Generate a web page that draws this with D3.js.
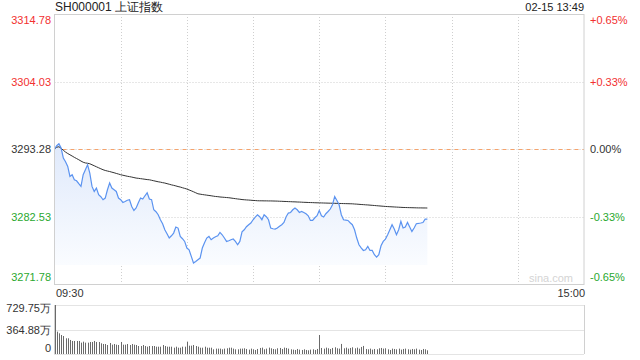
<!DOCTYPE html>
<html lang="zh">
<head>
<meta charset="utf-8">
<title>SH000001 上证指数</title>
<script src="https://d3js.org/d3.v7.min.js" charset="utf-8"></script>
<style>
    body {
        margin: 0;
        background: #fff;
        font-family: "Liberation Sans", Arial, sans-serif;
    }
    .lbl { font-size: 11px; }
    .up { fill: #f23030; }
    .down { fill: #2aa830; }
    .flat { fill: #333; }
</style>
</head>
<body>
<div id="chart"></div>
<script>

//_____________________________DATA_____________________________

var symbol = "SH000001 上证指数";
var stamp = "02-15 13:49";
var preClose = 3293.28;
var priceTicks = [3314.78, 3304.03, 3293.28, 3282.53, 3271.78];
var pctTicks = ["+0.65%", "+0.33%", "0.00%", "-0.33%", "-0.65%"];
var timeTicks = ["09:30", "15:00"];
var volTicks = ["729.75万", "364.88万", "0"];
var volMax = 729.75;

// price per minute, 09:30 .. 13:49
var price = [
 3293.27, 3293.80, 3294.12, 3293.43, 3291.84, 3291.25, 3290.50, 3288.91, 3289.18, 3288.38,
 3288.22, 3287.75, 3287.32, 3289.18, 3289.98, 3290.77, 3289.45, 3287.32, 3286.52, 3287.06,
 3285.99, 3285.68, 3285.20, 3285.47, 3286.79, 3287.86, 3287.06, 3286.79, 3286.52, 3285.47,
 3285.20, 3284.77, 3284.93, 3285.12, 3285.20, 3284.13, 3283.49, 3283.88, 3284.72, 3285.47,
 3285.31, 3285.83, 3286.31, 3285.31, 3285.20, 3283.60, 3283.29, 3282.81, 3282.01, 3281.38,
 3280.42, 3279.78, 3279.10, 3279.46, 3279.89, 3280.85, 3280.69, 3279.35, 3278.99, 3278.56,
 3277.51, 3277.23, 3276.17, 3275.12, 3275.37, 3275.64, 3275.91, 3277.51, 3278.35, 3279.10,
 3279.35, 3278.83, 3279.10, 3279.30, 3279.46, 3279.99, 3279.62, 3279.10, 3278.56, 3278.67,
 3278.83, 3278.94, 3278.56, 3278.03, 3278.56, 3280.10, 3280.42, 3280.90, 3281.22, 3281.49,
 3282.01, 3282.44, 3282.81, 3282.49, 3282.01, 3282.81, 3282.49, 3282.01, 3280.69, 3280.58,
 3280.53, 3280.69, 3280.98, 3281.22, 3281.58, 3282.49, 3283.08, 3283.17, 3283.60, 3283.88,
 3283.60, 3283.17, 3283.33, 3283.17, 3282.97, 3282.65, 3281.90, 3281.90, 3282.33, 3282.65,
 3283.49, 3282.65, 3282.44, 3282.97, 3283.33, 3283.72, 3284.40, 3285.72, 3285.09, 3284.40,
 3282.81, 3282.01, 3281.96, 3281.90, 3281.53, 3281.22, 3280.42, 3279.10, 3278.03, 3277.55,
 3277.12, 3277.23, 3277.76, 3277.12, 3277.12, 3276.44, 3276.07, 3276.44, 3277.87, 3278.56,
 3278.94, 3279.62, 3280.42, 3281.22, 3280.53, 3279.62, 3280.42, 3281.74, 3280.69, 3280.85,
 3281.58, 3280.85, 3280.15, 3280.69, 3281.38, 3281.42, 3281.49, 3281.58, 3282.12, 3282.12
];

// average price per minute
var avgPrice = [
 3293.28, 3293.56, 3293.64, 3293.40, 3293.08, 3292.79, 3292.56, 3292.36, 3292.16, 3291.95,
 3291.76, 3291.57, 3291.36, 3291.17, 3291.06, 3291.01, 3290.93, 3290.77, 3290.61, 3290.45,
 3290.29, 3290.13, 3289.98, 3289.86, 3289.77, 3289.69, 3289.59, 3289.50, 3289.39, 3289.29,
 3289.18, 3289.10, 3289.02, 3288.94, 3288.88, 3288.81, 3288.73, 3288.65, 3288.61, 3288.56,
 3288.51, 3288.46, 3288.41, 3288.38, 3288.30, 3288.22, 3288.14, 3288.06, 3288.00, 3287.92,
 3287.86, 3287.76, 3287.67, 3287.57, 3287.49, 3287.40, 3287.30, 3287.22, 3287.11, 3287.01,
 3286.90, 3286.76, 3286.62, 3286.47, 3286.31, 3286.15, 3286.09, 3286.03, 3285.98, 3285.93,
 3285.88, 3285.83, 3285.77, 3285.72, 3285.69, 3285.64, 3285.61, 3285.58, 3285.55, 3285.52,
 3285.47, 3285.42, 3285.37, 3285.32, 3285.28, 3285.23, 3285.20, 3285.17, 3285.15, 3285.12,
 3285.09, 3285.07, 3285.04, 3285.03, 3285.03, 3285.02, 3285.02, 3285.01, 3285.01, 3285.00,
 3284.99, 3284.98, 3284.96, 3284.95, 3284.93, 3284.92, 3284.90, 3284.89, 3284.87, 3284.86,
 3284.84, 3284.83, 3284.81, 3284.79, 3284.78, 3284.76, 3284.75, 3284.74, 3284.72, 3284.71,
 3284.70, 3284.69, 3284.68, 3284.67, 3284.66, 3284.65, 3284.64, 3284.63, 3284.62, 3284.61,
 3284.60, 3284.59, 3284.58, 3284.57, 3284.56, 3284.55, 3284.52, 3284.50, 3284.47, 3284.44,
 3284.42, 3284.39, 3284.37, 3284.34, 3284.31, 3284.28, 3284.25, 3284.22, 3284.19, 3284.16,
 3284.13, 3284.11, 3284.09, 3284.07, 3284.05, 3284.03, 3284.01, 3283.99, 3283.97, 3283.96,
 3283.95, 3283.94, 3283.93, 3283.92, 3283.91, 3283.90, 3283.90, 3283.89, 3283.89, 3283.88
];

// volume per minute, 万
var volume = [
 729.75, 333, 308, 283, 268, 234, 234, 209, 194, 194,
 194, 194, 169, 184, 169, 169, 179, 179, 194, 179,
 179, 159, 149, 149, 134, 164, 139, 149, 139, 134,
 179, 139, 139, 149, 134, 149, 139, 134, 119, 119,
 134, 119, 109, 119, 119, 119, 109, 109, 109, 134,
 119, 109, 109, 109, 94, 109, 94, 94, 109, 109,
 184, 124, 124, 134, 119, 109, 94, 94, 109, 94,
 94, 94, 70, 80, 80, 80, 70, 80, 85, 94,
 94, 80, 70, 70, 80, 80, 85, 75, 65, 80,
 70, 60, 75, 90, 95, 70, 80, 95, 85, 75,
 70, 85, 90, 75, 95, 90, 80, 70, 65, 60,
 75, 65, 60, 70, 60, 55, 65, 70, 60, 75,
 283, 90, 80, 95, 85, 75, 90, 100, 85, 80,
 150, 85, 95, 80, 90, 100, 85, 95, 80, 105,
 120, 75, 70, 80, 65, 75, 70, 85, 90, 80,
 85, 70, 60, 80, 75, 70, 80, 65, 75, 80,
 70, 65, 75, 70, 80, 65, 60, 75, 70, 55
];

//_____________________________SVG_____________________________

var width = 640;
var height = 360;
var plotL = 54.5, plotR = 584;
var plotT = 14, plotB = 284;
var vTop = 305, vBottom = 354;

var svg = d3.select( "#chart" )
    .append( "svg" )
    .attr( "width", width )
    .attr( "height", height );

var x = d3.scaleLinear()
    .domain( [0, 240] )
    .range( [plotL, plotR] );

var y = d3.scaleLinear()
    .domain( [priceTicks[4], priceTicks[0]] )
    .range( [plotB, plotT] );

var yv = d3.scaleLinear()
    .domain( [0, volMax] )
    .range( [vBottom, vTop] );

// gradient under the price line
var grad = svg.append( "defs" ).append( "linearGradient" )
    .attr( "id", "fillgrad" )
    .attr( "x1", 0 ).attr( "y1", 0 ).attr( "x2", 0 ).attr( "y2", 1 );
grad.append( "stop" ).attr( "offset", "0%" ).attr( "stop-color", "#dfe9fb" );
grad.append( "stop" ).attr( "offset", "100%" ).attr( "stop-color", "#fafcff" );

//grid________________________________

var g = svg.append( "g" );

// vertical dotted grid, every 30 minutes
g.selectAll( ".vgrid" )
    .data( d3.range( 30, 240, 30 ) )
    .enter()
    .append( "line" )
    .attr( "x1", function(d) { return Math.round( x(d) ) + 0.5; } )
    .attr( "x2", function(d) { return Math.round( x(d) ) + 0.5; } )
    .attr( "y1", plotT )
    .attr( "y2", plotB )
    .attr( "stroke", "#cfcfcf" )
    .attr( "stroke-dasharray", "1,2" );

// horizontal dotted grid
g.selectAll( ".hgrid" )
    .data( priceTicks.slice( 1, 4 ) )
    .enter()
    .append( "line" )
    .attr( "x1", plotL )
    .attr( "x2", plotR )
    .attr( "y1", function(d) { return Math.round( y(d) ) + 0.5; } )
    .attr( "y2", function(d) { return Math.round( y(d) ) + 0.5; } )
    .attr( "stroke", "#cfcfcf" )
    .attr( "stroke-dasharray", "1,2" );

// previous close, orange dashes
g.append( "line" )
    .attr( "x1", plotL )
    .attr( "x2", plotR )
    .attr( "y1", Math.round( y(preClose) ) + 0.5 )
    .attr( "y2", Math.round( y(preClose) ) + 0.5 )
    .attr( "stroke", "#f5a36c" )
    .attr( "stroke-dasharray", "4,4" );

//price area and lines________________________________

var area = d3.area()
    .x( function(d, i) { return x(i); } )
    .y0( y( d3.min( price ) ) + 2 )
    .y1( function(d) { return y(d); } );

svg.append( "path" )
    .datum( price )
    .attr( "fill", "url(#fillgrad)" )
    .attr( "d", area );

var line = d3.line()
    .x( function(d, i) { return x(i); } )
    .y( function(d) { return y(d); } );

svg.append( "path" )
    .datum( avgPrice )
    .attr( "fill", "none" )
    .attr( "stroke", "#333" )
    .attr( "stroke-width", 1 )
    .attr( "d", line );

svg.append( "path" )
    .datum( price )
    .attr( "fill", "none" )
    .attr( "stroke", "#5b93f0" )
    .attr( "stroke-width", 1.2 )
    .attr( "d", line );

// frame
svg.append( "rect" )
    .attr( "x", plotL )
    .attr( "y", plotT + 0.5 )
    .attr( "width", plotR - plotL )
    .attr( "height", plotB - plotT )
    .attr( "fill", "none" )
    .attr( "stroke", "#d0d0d0" );

//labels________________________________

svg.append( "text" )
    .attr( "x", 55 )
    .attr( "y", 11 )
    .attr( "font-size", "12px" )
    .attr( "fill", "#222" )
    .text( symbol );

svg.append( "text" )
    .attr( "x", plotR )
    .attr( "y", 11 )
    .attr( "text-anchor", "end" )
    .attr( "font-size", "11px" )
    .attr( "fill", "#222" )
    .text( stamp );

function tickClass(i) {
    return i < 2 ? "lbl up" : ( i == 2 ? "lbl flat" : "lbl down" );
}
function tickY(d, i) {
    var p = y(d);
    if (i == 0) p = p + 6;
    if (i == 4) p = p - 7;
    return p + 4;
}

svg.selectAll( ".ltick" )
    .data( priceTicks )
    .enter()
    .append( "text" )
    .attr( "class", function(d, i) { return tickClass(i); } )
    .attr( "x", 51 )
    .attr( "y", tickY )
    .attr( "text-anchor", "end" )
    .text( function(d) { return d.toFixed(2); } );

svg.selectAll( ".rtick" )
    .data( priceTicks )
    .enter()
    .append( "text" )
    .attr( "class", function(d, i) { return tickClass(i); } )
    .attr( "x", 590 )
    .attr( "y", tickY )
    .text( function(d, i) { return pctTicks[i]; } );

svg.append( "text" )
    .attr( "x", 573 )
    .attr( "y", 282 )
    .attr( "text-anchor", "end" )
    .attr( "font-size", "11px" )
    .attr( "fill", "#d4d4d4" )
    .text( "sina.com" );

svg.append( "text" )
    .attr( "class", "lbl flat" )
    .attr( "x", 56 )
    .attr( "y", 297 )
    .text( timeTicks[0] );

svg.append( "text" )
    .attr( "class", "lbl flat" )
    .attr( "x", 585 )
    .attr( "y", 297 )
    .attr( "text-anchor", "end" )
    .text( timeTicks[1] );

//volume________________________________

var vg = svg.append( "g" );

vg.selectAll( ".vline" )
    .data( [volMax, volMax / 2, 0] )
    .enter()
    .append( "line" )
    .attr( "x1", plotL )
    .attr( "x2", plotR )
    .attr( "y1", function(d) { return Math.round( yv(d) ) + 0.5; } )
    .attr( "y2", function(d) { return Math.round( yv(d) ) + 0.5; } )
    .attr( "stroke", "#c8c8c8" )
    .attr( "stroke-dasharray", "1,1" );

vg.append( "line" )
    .attr( "x1", plotR + 0.5 )
    .attr( "x2", plotR + 0.5 )
    .attr( "y1", vTop )
    .attr( "y2", vBottom )
    .attr( "stroke", "#d0d0d0" );

vg.append( "line" )
    .attr( "x1", plotL )
    .attr( "x2", plotL )
    .attr( "y1", vTop )
    .attr( "y2", vBottom )
    .attr( "stroke", "#d0d0d0" );

vg.selectAll( ".bar" )
    .data( volume )
    .enter()
    .append( "rect" )
    .attr( "x", function(d, i) { return Math.round( x(i) ); } )
    .attr( "y", function(d) { return yv(d); } )
    .attr( "width", 1 )
    .attr( "height", function(d) { return vBottom - yv(d); } )
    .attr( "fill", "#6a6a6a" );

var volY = [312, 334, 352];
vg.selectAll( ".vtick" )
    .data( volTicks )
    .enter()
    .append( "text" )
    .attr( "class", "lbl flat" )
    .attr( "x", 51 )
    .attr( "y", function(d, i) { return volY[i]; } )
    .attr( "text-anchor", "end" )
    .text( function(d) { return d; } );

</script>
</body>
</html>
